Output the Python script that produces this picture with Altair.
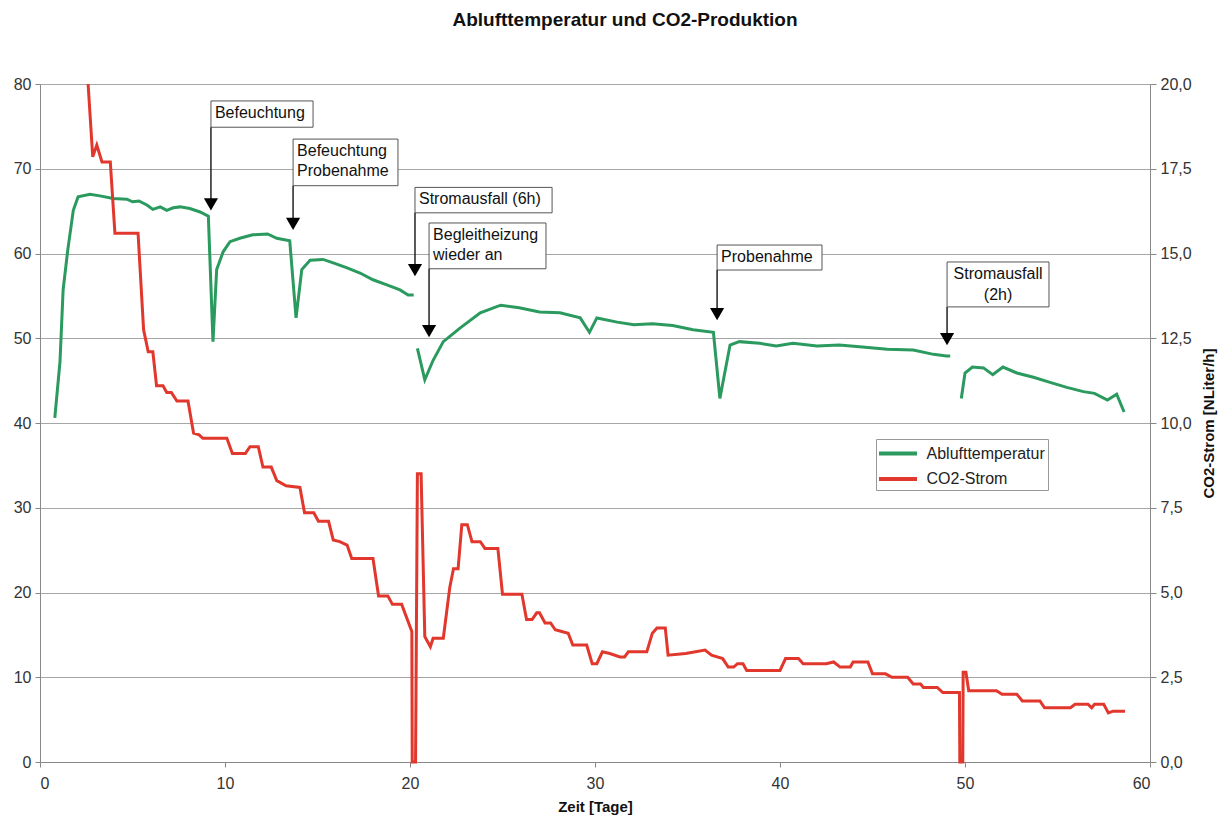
import altair as alt
import pandas as pd

# ---------------- data ----------------
# Ablufttemperatur [°C], three recorded segments (gaps = power failures)
temp1_day = [0.8, 1.08, 1.25, 1.5, 1.8, 2.06, 2.7, 3.24, 3.95, 4.7, 5.0, 5.35, 5.8, 6.1, 6.5,
             6.85, 7.2, 7.57, 8.1, 8.65, 9.1, 9.35, 9.55, 9.9, 10.27, 10.8, 11.5, 12.3, 12.8, 13.5,
             13.84, 14.15, 14.6, 15.3, 15.85, 16.6, 17.3, 18.0, 18.75, 19.46, 19.9, 20.2]
temp1_val = [40.6, 47.2, 55.7, 60.4, 65.1, 66.7, 67.0, 66.8, 66.5, 66.4, 66.1, 66.2, 65.7, 65.2, 65.5,
             65.1, 65.4, 65.5, 65.3, 64.9, 64.4, 49.6, 58.1, 60.2, 61.4, 61.8, 62.2, 62.3, 61.8, 61.5,
             52.4, 58.1, 59.2, 59.3, 58.9, 58.3, 57.7, 56.9, 56.3, 55.7, 55.1, 55.1]
temp2_day = [20.4, 20.8, 21.25, 21.8, 22.7, 23.8, 24.9, 25.9, 27.0, 28.1, 29.2, 29.7, 30.1, 31.2, 32.1,
             33.1, 34.2, 35.3, 36.4, 36.75, 37.3, 37.8, 38.9, 39.8, 40.7, 42.0, 43.2, 44.3, 45.8, 47.2,
             48.3, 49.0, 49.2]
temp2_val = [48.8, 45.1, 47.4, 49.6, 51.2, 53.0, 53.9, 53.6, 53.1, 53.0, 52.4, 50.7, 52.4, 51.9, 51.6,
             51.7, 51.5, 51.0, 50.7, 42.9, 49.2, 49.6, 49.4, 49.1, 49.4, 49.1, 49.2, 49.0, 48.7, 48.6,
             48.1, 47.9, 47.9]
temp3_day = [49.8, 50.0, 50.4, 51.0, 51.5, 52.05, 52.8, 53.7, 54.6, 55.5, 56.4, 57.0, 57.7, 58.2, 58.6]
temp3_val = [42.9, 45.9, 46.6, 46.5, 45.7, 46.6, 45.9, 45.4, 44.8, 44.2, 43.7, 43.5, 42.7, 43.4, 41.3]

# CO2-Strom [NLiter/h]
co2_day = [2.6, 2.85, 3.07, 3.35, 3.8, 4.05, 5.3, 5.6, 5.85, 6.1, 6.3, 6.65, 6.85, 7.1, 7.4, 8.0,
           8.3, 8.6, 8.8, 10.1, 10.4, 11.1, 11.35, 11.8, 12.05, 12.5, 12.8, 13.3, 14.05, 14.3, 14.8,
           15.05, 15.6, 15.85, 16.2, 16.6, 16.85, 18.0, 18.3, 18.8, 19.05, 19.55, 20.1, 20.12, 20.3,
           20.4, 20.6, 20.8, 21.1, 21.25, 21.8, 22.15, 22.35, 22.6, 22.8, 23.1, 23.35, 23.8, 24.05,
           24.75, 25.0, 26.05, 26.3, 26.6, 26.85, 27.0, 27.3, 27.6, 27.85, 28.2, 28.55, 28.8, 29.55,
           29.85, 30.1, 30.4, 30.8, 31.35, 31.6, 31.8, 32.8, 33.1, 33.35, 33.8, 33.95, 34.9, 35.95,
           36.3, 36.9, 37.2, 37.5, 37.7, 38.0, 38.2, 40.0, 40.3, 41.0, 41.25, 42.5, 42.9, 43.25, 43.8,
           43.95, 44.75, 45.0, 45.7, 46.05, 46.9, 47.2, 47.6, 47.75, 48.5, 48.8, 49.7, 49.72, 49.88,
           49.9, 50.05, 50.2, 51.7, 52.0, 52.8, 53.1, 54.05, 54.3, 55.7, 55.95, 56.65, 56.85, 57.0,
           57.5, 57.75, 58.0, 58.65]
co2_flow = [20.0, 17.85, 18.2, 17.7, 17.7, 15.6, 15.6, 12.75, 12.1, 12.1, 11.1, 11.1, 10.9, 10.9, 10.65, 10.65,
            9.7, 9.65, 9.55, 9.55, 9.1, 9.1, 9.3, 9.3, 8.7, 8.7, 8.3, 8.15, 8.1, 7.35, 7.35,
            7.1, 7.1, 6.55, 6.5, 6.4, 6.0, 6.0, 4.9, 4.9, 4.65, 4.65, 3.85, 0.0, 0.0,
            8.5, 8.5, 3.7, 3.4, 3.65, 3.65, 5.15, 5.7, 5.7, 7.0, 7.0, 6.5, 6.5, 6.3,
            6.3, 4.95, 4.95, 4.2, 4.2, 4.4, 4.4, 4.1, 4.1, 3.9, 3.85, 3.8, 3.45, 3.45,
            2.9, 2.9, 3.25, 3.2, 3.1, 3.1, 3.25, 3.25, 3.8, 3.95, 3.95, 3.15, 3.2, 3.3,
            3.15, 3.05, 2.8, 2.8, 2.9, 2.9, 2.7, 2.7, 3.05, 3.05, 2.9, 2.9, 2.95, 2.8, 2.8,
            2.95, 2.95, 2.6, 2.6, 2.5, 2.5, 2.3, 2.3, 2.2, 2.2, 2.05, 2.05, 0.0, 0.0,
            2.65, 2.65, 2.1, 2.1, 2.0, 2.0, 1.8, 1.8, 1.6, 1.6, 1.7, 1.7, 1.6, 1.7,
            1.7, 1.45, 1.5, 1.5]

# annotations (x in days, y in °C of the left axis)
ann_label = ["Befeuchtung", "Befeuchtung\nProbenahme", "Stromausfall (6h)",
             "Begleitheizung\nwieder an", "Probenahme", "Stromausfall\n(2h)"]
ann_day = [9.24, 13.68, 20.27, 21.03, 36.6, 49.03]
ann_box_right = [14.76, 19.35, 27.68, 27.35, 42.27, 54.54]
ann_box_top = [78.0, 73.5, 67.8, 63.6, 61.0, 59.0]
ann_box_bottom = [74.9, 68.0, 64.8, 58.2, 58.05, 53.7]
ann_tip = [65.8, 63.5, 58.05, 50.85, 52.85, 49.9]
ann_align = ["left", "left", "left", "left", "left", "center"]

x_ticks = [0, 10, 20, 30, 40, 50, 60]
left_ticks = [0, 10, 20, 30, 40, 50, 60, 70, 80]
right_ticks = [0, 2.5, 5, 7.5, 10, 12.5, 15, 17.5, 20]

# ---------------- tables ----------------
rows = []
i = 0
for seg, (xs, ys) in enumerate([(temp1_day, temp1_val), (temp2_day, temp2_val), (temp3_day, temp3_val)]):
    for x, y in zip(xs, ys):
        rows.append({"day": x, "value": y, "seg": seg, "i": i, "series": "Ablufttemperatur"})
        i += 1
temp_df = pd.DataFrame(rows)
co2_df = pd.DataFrame({"day": co2_day, "flow": co2_flow, "i": list(range(len(co2_day))),
                       "series": "CO2-Strom"})
ann_df = pd.DataFrame({"label": ann_label, "day": ann_day, "right": ann_box_right,
                       "top": ann_box_top, "bottom": ann_box_bottom, "tip": ann_tip,
                       "align": ann_align})
ann_df["center"] = (ann_df["day"] + ann_df["right"]) / 2

FONT = "Liberation Sans"
GREEN = "#2a9a5e"
RED = "#e1372c"

x_scale = alt.Scale(domain=[0, 60], nice=False, zero=False)
y_left = alt.Scale(domain=[0, 80], nice=False)
y_right = alt.Scale(domain=[0, 20], nice=False)

left_axis = alt.Axis(values=left_ticks, title=None, grid=True, tickSize=5,
                     labelPadding=4, format="d")

color = alt.Color(
    "series:N",
    scale=alt.Scale(domain=["Ablufttemperatur", "CO2-Strom"], range=[GREEN, RED]),
    legend=alt.Legend(title=None, orient="none", legendX=836, legendY=355,
                      symbolType="M-2,0H2", symbolSize=361, symbolStrokeWidth=4,
                      symbolOffset=7.5, labelOffset=17,
                      labelFont=FONT, labelFontSize=16, labelColor="#222",
                      strokeColor="#999", fillColor="white", padding=3,
                      rowPadding=5.5),
)

temp_line = alt.Chart(temp_df).mark_line(strokeWidth=3).encode(
    x=alt.X("day:Q", scale=x_scale,
            axis=alt.Axis(values=x_ticks, title="Zeit [Tage]", grid=False, tickSize=5,
                          labelPadding=8, titlePadding=8, format="d")),
    y=alt.Y("value:Q", scale=y_left, axis=left_axis),
    color=color,
    detail="seg:N",
    order="i:Q",
)

boxes = alt.Chart(ann_df).mark_rect(fill="white", stroke="#555", strokeWidth=1).encode(
    x="day:Q", x2="right:Q",
    y=alt.Y("top:Q", scale=y_left, axis=left_axis), y2="bottom:Q",
)
stems = alt.Chart(ann_df).mark_rule(color="#222", strokeWidth=1.5).encode(
    x="day:Q", y=alt.Y("bottom:Q", scale=y_left, axis=left_axis), y2="tip:Q",
)
heads = alt.Chart(ann_df).mark_point(shape="triangle-down", filled=True, size=200,
                                     color="#000", opacity=1).encode(
    x="day:Q", y=alt.Y("tip:Q", scale=y_left, axis=left_axis),
)
texts_left = alt.Chart(ann_df).transform_filter(alt.datum.align == "left").mark_text(
    align="left", baseline="top", dx=4, dy=4, font=FONT, fontSize=16, lineBreak="\n",
    lineHeight=20, color="#111").encode(
    x="day:Q", y=alt.Y("top:Q", scale=y_left, axis=left_axis), text="label:N",
)
texts_center = alt.Chart(ann_df).transform_filter(alt.datum.align == "center").mark_text(
    align="center", baseline="top", dy=4, font=FONT, fontSize=16, lineBreak="\n",
    lineHeight=21, color="#111").encode(
    x="center:Q", y=alt.Y("top:Q", scale=y_left, axis=left_axis), text="label:N",
)

left_layer = alt.layer(temp_line, boxes, stems, heads, texts_left, texts_center)

co2_line = alt.Chart(co2_df).mark_line(strokeWidth=3).encode(
    x=alt.X("day:Q", scale=x_scale),
    y=alt.Y("flow:Q", scale=y_right,
            axis=alt.Axis(orient="right", values=right_ticks, grid=False, tickSize=6,
                          labelPadding=4, title="CO2-Strom [NLiter/h]",
                          labelExpr="replace(format(datum.value, '.1f'), '.', ',')",
                          titleAngle=270, titlePadding=25)),
    color=color,
    order="i:Q",
)

chart = alt.layer(left_layer, co2_line).resolve_scale(y="independent").properties(
    width=1110, height=678,
    autosize=alt.AutoSizeParams(type="none"),
    padding={"left": 32, "top": 76, "right": 70, "bottom": 55},
    title=alt.TitleParams("Ablufttemperatur und CO2-Produktion", font=FONT, fontSize=19,
                          fontWeight="bold", anchor="middle", offset=46, dx=30, color="#111"),
    background="white",
).configure_view(stroke="transparent").configure_axis(
    labelFont=FONT, labelFontSize=16, labelColor="#333",
    domainColor="#888", tickColor="#888", gridColor="#a6a6a6",
    titleFont=FONT, titleFontSize=15, titleFontWeight="bold", titleColor="#111",
)

chart.save("out.html", embed_options={"renderer": "svg", "actions": False})
